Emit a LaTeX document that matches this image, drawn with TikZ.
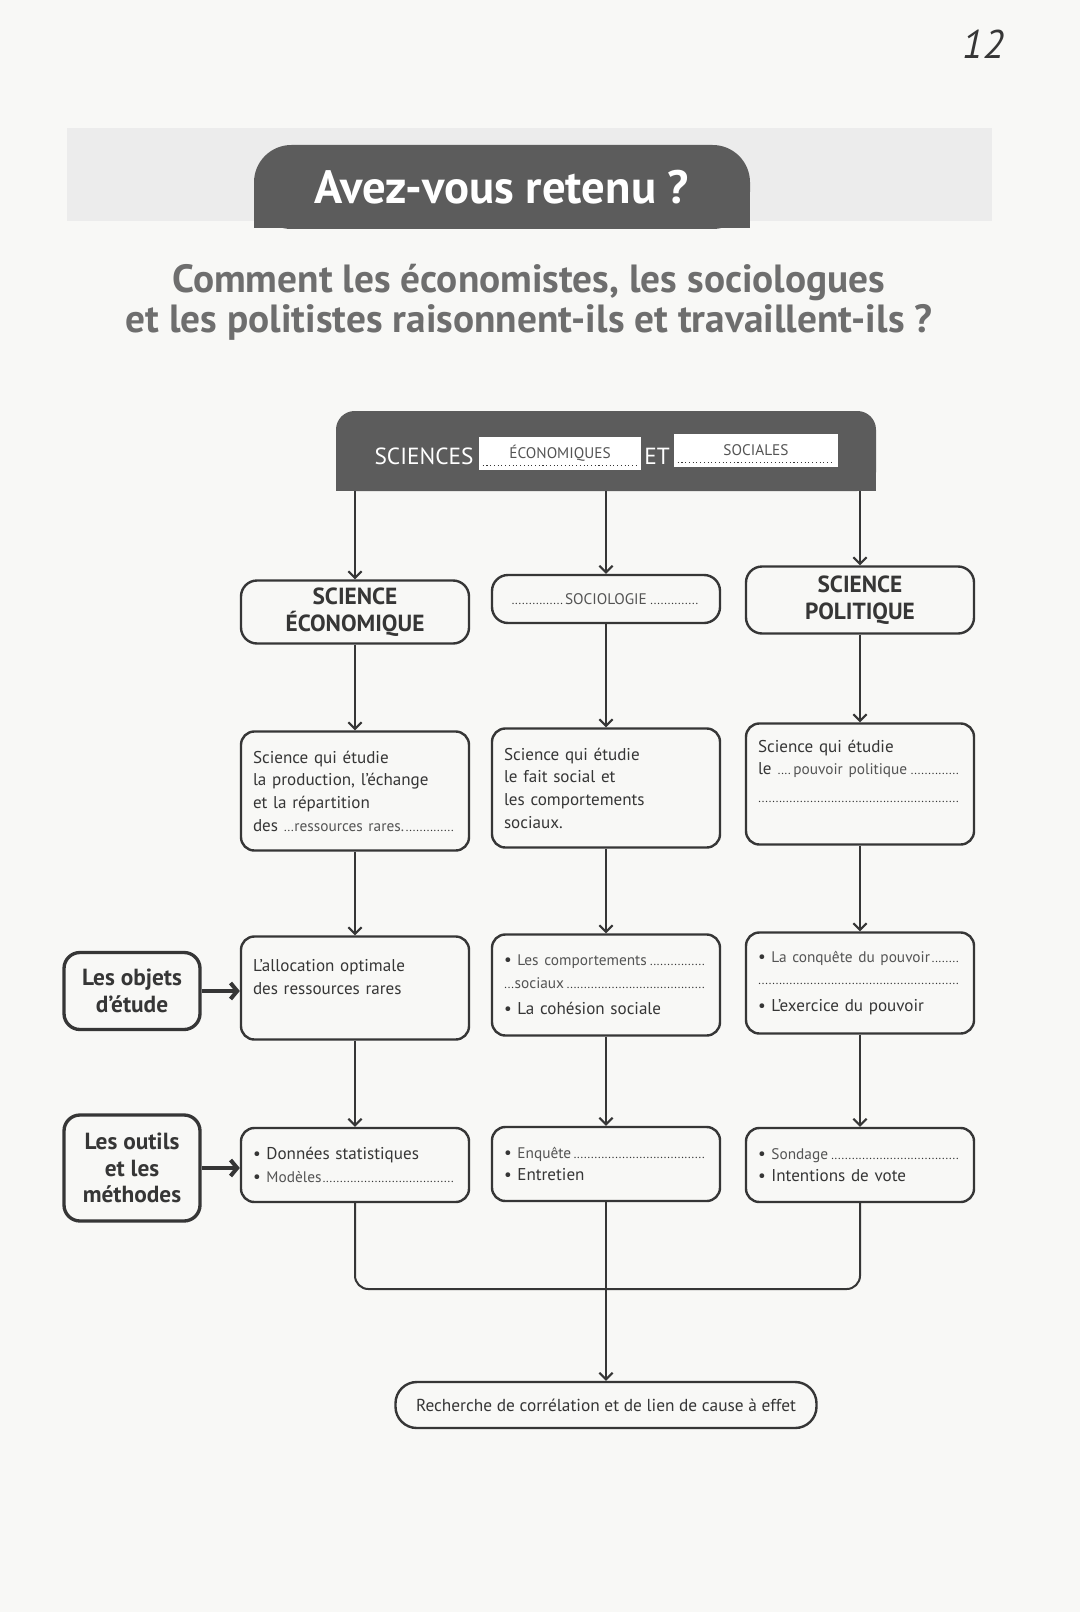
\documentclass[tikz,border=0pt]{standalone}
\usepackage{fontspec}
\setmainfont{PT Sans}
\usetikzlibrary{calc}
\usetikzlibrary{arrows.meta}

\definecolor{paper}{HTML}{F8F8F6}
\definecolor{ink}{HTML}{363636}
\definecolor{tabgrey}{HTML}{5C5C5C}
\definecolor{bandgrey}{HTML}{ECECEC}
\definecolor{titlegrey}{HTML}{6E6E6E}

\newcommand{\handfont}{\fontsize{11.5}{13}\selectfont\color{ink!85}}
\newcommand{\cellfont}{\fontsize{12.8}{17}\selectfont}
\newcommand{\capsfont}{\fontsize{17.5}{20}\selectfont\bfseries}
\newcommand{\tabfont}{\fontsize{35}{38}\selectfont\bfseries}
\newcommand{\titlefont}{\fontsize{29.5}{30}\selectfont\bfseries}
\newcommand{\dotline}{\leavevmode\leaders\hbox to 2.6pt{\hss\fontsize{9}{9}\selectfont.\hss}\hfill\kern0pt}

\begin{document}
\begin{tikzpicture}[x=0.75pt,y=-0.75pt,
  cell/.style={draw=ink,line width=1.8pt,rounded corners=10pt,inner xsep=9pt,text width=153pt,align=left,font=\cellfont,text=ink},
  titlecell/.style={draw=ink,line width=1.8pt,rounded corners=12pt,minimum width=171pt,align=center,font=\capsfont,text=ink},
  sidecell/.style={draw=ink,line width=2.5pt,rounded corners=12pt,minimum width=102pt,align=center,font=\capsfont,text=ink},
  blank/.style={fill=white,inner sep=0pt,font=\handfont},
  arr/.style={draw=ink,line width=1.5pt,-{Straight Barb[length=5pt,width=10pt]}},
  fatarr/.style={draw=ink,line width=3pt,-{Straight Barb[length=5pt,width=12pt]}}]
\def\u{0.75pt}
\fill[paper] (0,0) rectangle (1080,1612);
\useasboundingbox (0,0) rectangle (1080,1612);

\node[font=\fontsize{30}{30}\selectfont\itshape,text=ink] (pagenum) at (983,44) {12};

% bandeau
\fill[bandgrey] (67,128) rectangle (992,221);
\fill[tabgrey] (254,190) rectangle (750,228);
\node[fill=tabgrey,rounded corners=28pt,minimum width=496*\u,minimum height=84*\u,text=white,font=\tabfont] (tab) at (502,187) {Avez-vous retenu ?};
\node[text=titlegrey,font=\titlefont,align=center] (question) at (529,302) {Comment les économistes, les sociologues\\et les politistes raisonnent-ils et travaillent-ils ?};

% en-tete
\fill[tabgrey] (336,451) rectangle (876,491);
\node[fill=tabgrey,rounded corners=14pt,minimum width=540*\u,minimum height=80*\u] (head) at (606,451) {};
\node[text=white,font=\capsfont\mdseries] (sci) at (424,456) {SCIENCES};
\node[blank,minimum width=162*\u,minimum height=33*\u] (blank1) at (560,453) {ÉCONOMIQUES};
\node[text=white,font=\capsfont\mdseries] (et) at (657,456) {ET};
\node[blank,minimum width=164*\u,minimum height=33*\u] (blank2) at (756,450) {SOCIALES};
\draw[dotted,line width=0.8pt,ink] ([xshift=3pt,yshift=3pt]blank1.south west) -- ([xshift=-3pt,yshift=3pt]blank1.south east);
\draw[dotted,line width=0.8pt,ink] ([xshift=3pt,yshift=3pt]blank2.south west) -- ([xshift=-3pt,yshift=3pt]blank2.south east);

% disciplines
\node[titlecell,minimum height=63*\u] (eco1) at (355,612) {SCIENCE\\ÉCONOMIQUE};
\node[titlecell,minimum height=48*\u] (soc1) at (606,599) {\cellfont\mdseries\makebox[142pt]{\dotline{\handfont SOCIOLOGIE}\dotline}};
\node[titlecell,minimum height=67*\u] (pol1) at (860,600) {SCIENCE\\POLITIQUE};

\node[cell,minimum height=119*\u] (eco2) at (355,791) {Science qui étudie\\la production, l’échange\\et la répartition\\des \makebox[8pt]{\dotline}{\handfont ressources rares.}\dotline};
\node[cell,minimum height=119*\u] (soc2) at (606,788) {Science qui étudie\\le fait social et\\les comportements\\sociaux.};
\node[cell,minimum height=121*\u] (pol2) at (860,784) {Science qui étudie\\le \makebox[12pt]{\dotline}{\handfont pouvoir politique}\dotline\\[4pt]\mbox{}\dotline\\[2pt]\mbox{}};

\node[sidecell,minimum height=77*\u] (objets) at (132,991) {Les objets\\d’étude};
\node[cell,minimum height=103*\u] (eco3) at (355,988) {L’allocation optimale\\des ressources rares\\\mbox{}};
\node[cell,minimum height=101*\u] (soc3) at (606,985) {\textbullet\ {\handfont Les comportements}\dotline\\\makebox[8pt]{\dotline}{\handfont sociaux}\dotline\\[3pt]\textbullet\ La cohésion sociale};
\node[cell,minimum height=101*\u] (pol3) at (860,983) {\textbullet\ {\handfont La conquête du pouvoir}\dotline\\\mbox{}\dotline\\[3pt]\textbullet\ L’exercice du pouvoir};

\node[sidecell,minimum height=106*\u] (outils) at (132,1168) {Les outils\\et les\\méthodes};
\node[cell,minimum height=74*\u] (eco4) at (355,1165) {\textbullet\ Données statistiques\\\textbullet\ {\handfont Modèles}\dotline};
\node[cell,minimum height=74*\u] (soc4) at (606,1164) {\textbullet\ {\handfont Enquête}\dotline\\\textbullet\ Entretien};
\node[cell,minimum height=74*\u] (pol4) at (860,1165) {\textbullet\ {\handfont Sondage}\dotline\\\textbullet\ Intentions de vote};

\node[draw=ink,line width=1.8pt,rounded corners=16pt,minimum width=421*\u,minimum height=46*\u,font=\fontsize{13}{16}\selectfont,text=ink] (final) at (606,1405) {Recherche de corrélation et de lien de cause à effet};

% liaisons
\foreach \c in {eco,soc,pol} {
  \draw[arr] (head.south -| \c1) -- (\c1);
  \draw[arr] (\c1) -- (\c2);
  \draw[arr] (\c2) -- (\c3);
  \draw[arr] (\c3) -- (\c4);
}
\draw[fatarr] (objets.east) -- (objets.east -| eco3.west);
\draw[fatarr] (outils.east) -- (outils.east -| eco4.west);

\coordinate (join) at (606,1289);
\draw[draw=ink,line width=1.5pt,rounded corners=10pt] (eco4.south) |- (join) -| (pol4.south);
\draw[arr] (soc4) -- (final);
\end{tikzpicture}
\end{document}
